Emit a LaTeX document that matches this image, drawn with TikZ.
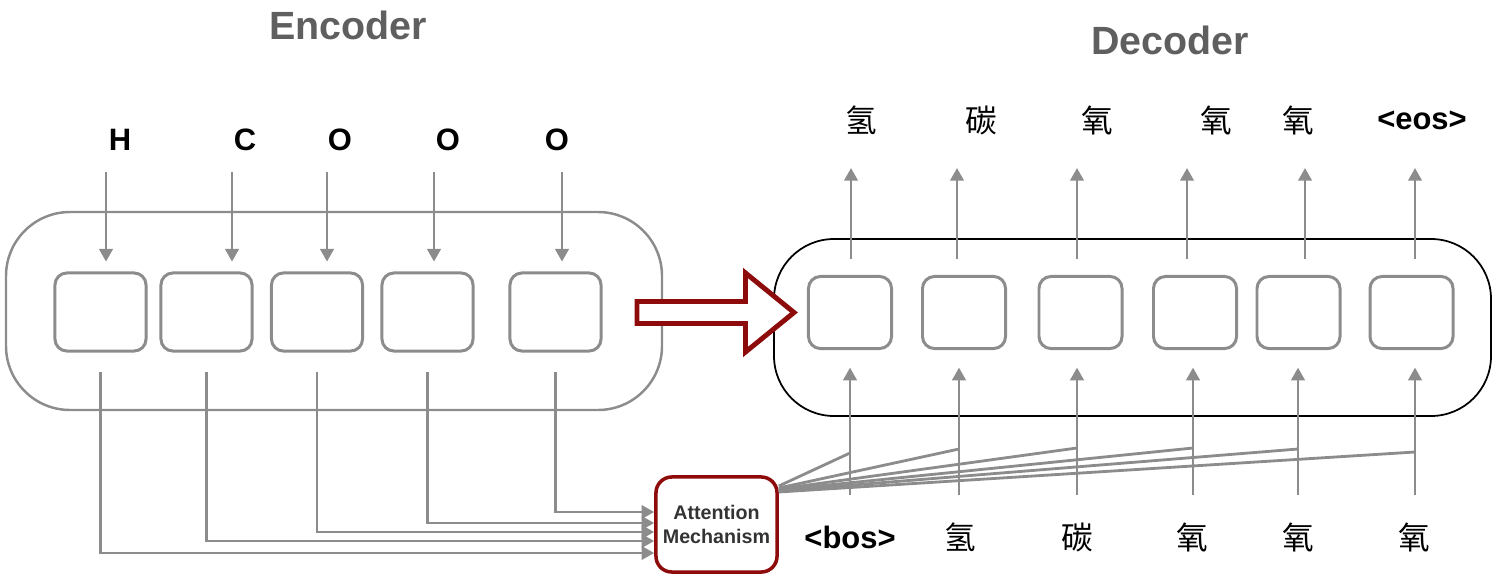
\documentclass[tikz,border=0pt]{standalone}
\usepackage{fontspec}
\setmainfont{Liberation Sans}
\newfontfamily\cjk{Noto Sans CJK SC}
\usepackage{xcolor}
\usetikzlibrary{arrows.meta,positioning,calc}
\definecolor{linegray}{HTML}{8C8C8C}
\definecolor{darkred}{HTML}{8E0B0B}
\definecolor{titlegray}{HTML}{5F5F5F}
\definecolor{textgray}{HTML}{333333}

\begin{document}
\begin{tikzpicture}[x=0.01cm, y=-0.01cm,
    cell/.style={draw=linegray, line width=0.85pt, rounded corners=3.4pt, inner sep=0pt},
    enccell/.style={cell, minimum width=0.91cm, minimum height=0.78cm},
    deccell/.style={cell, minimum width=0.83cm, minimum height=0.72cm},
    conn/.style={draw=linegray, line width=0.8pt},
    arr/.style={conn, -{Triangle[length=3.6pt,width=3.8pt]}},
    tok/.style={font=\fontsize{8.8}{10}\selectfont\bfseries},
    zh/.style={font=\fontsize{9}{10}\selectfont\cjk},
    title/.style={font=\fontsize{11.2}{13}\selectfont\bfseries, text=titlegray}]

  \useasboundingbox (0,0) rectangle (1501,585);

  % Titles
  \node[title] (enctitle) at (348,25) {Encoder};
  \node[title] (dectitle) at (1170,40) {Decoder};

  % Encoder block
  \draw[linegray, line width=0.7pt, rounded corners=0.64cm] (6,212) rectangle (662,410);
  \foreach \n/\x in {1/100.5,2/206.5,3/317,4/427.5,5/555.5}
    \node[enccell] (enc\n) at (\x,312) {};

  % Source tokens
  \foreach \n/\x/\t in {1/120/H,2/245/C,3/340/O,4/448/O,5/557/O}
    \node[tok] (src\n) at (\x,140) {\t};
  \foreach \n/\x in {1/106,2/232,3/327,4/434,5/562}
    \draw[arr, shorten >=2.8pt] (\x,172) -- (enc\n.north -| \x,0);

  % Attention
  \node[draw=darkred, line width=1pt, rounded corners=4.5pt, minimum width=1.21cm,
        minimum height=0.95cm, inner sep=0pt, align=center, text=textgray,
        font=\fontsize{5.6}{6.8}\selectfont\bfseries] (att) at (716.5,524.5)
        {Attention\\Mechanism};
  \foreach \n/\yy in {1/553,2/541,3/532,4/523,5/512}
    \draw[arr, shorten <=5.5pt] (enc\n.south) |- (att.west |- 0,\yy);

  % Decoder block
  \draw[black, line width=0.5pt, rounded corners=0.6cm] (774,239) rectangle (1491,416);
  \foreach \n/\x in {1/850,2/964,3/1080.5,4/1195,5/1298.5,6/1411.5}
    \node[deccell] (dec\n) at (\x,312.5) {};

  % Context vector
  \draw[darkred, line width=1.4pt, fill=white]
    (637,301.5) -- (745.5,301.5) -- (745.5,273) -- (794,312.5)
    -- (745.5,352) -- (745.5,323.5) -- (637,323.5) -- cycle;

  % Decoder outputs
  \node[zh] (out1) at (861,120) {氢};
  \node[zh] (out2) at (981,120) {碳};
  \node[zh] (out3) at (1097,120) {氧};
  \node[zh] (out4) at (1216,120) {氧};
  \node[zh] (out5) at (1298,120) {氧};
  \node[tok] (out6) at (1422,120) {<eos>};
  \foreach \n/\x in {1/851,2/957,3/1077,4/1187,5/1305,6/1415}
    \draw[arr, shorten <=4.5pt] (dec\n.north -| \x,0) -- (\x,168);

  % Decoder inputs
  \node[tok] (tgt1) at (850,537) {<bos>};
  \node[zh] (tgt2) at (960,537) {氢};
  \node[zh] (tgt3) at (1077,537) {碳};
  \node[zh] (tgt4) at (1192,537) {氧};
  \node[zh] (tgt5) at (1298,537) {氧};
  \node[zh] (tgt6) at (1414,537) {氧};
  \foreach \n/\x in {1/850,2/959,3/1077,4/1193,5/1298,6/1415}
    \draw[arr, shorten >=5pt] (\x,495) -- (dec\n.south -| \x,0);

  % Attention to decoder inputs
  \foreach \x/\ya/\yb in {850/486/453,959/488/449,1077/489/448,1193/490/448,1298/491/449,1415/492/452}
    \draw[conn] (att.east |- 0,\ya) -- (\x,\yb);

\end{tikzpicture}
\end{document}
